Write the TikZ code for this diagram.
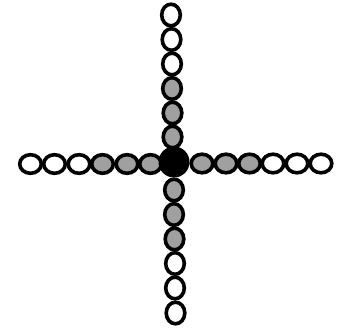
\documentclass[tikz,border=0pt]{standalone}
\usetikzlibrary{shapes.geometric}
\definecolor{beadgrey}{RGB}{160,160,160}
\tikzset{
  vbead/.style={ellipse, draw=black, line width=3.6pt, inner sep=0pt, minimum width=18.6pt, minimum height=21.6pt},
  hbead/.style={ellipse, draw=black, line width=3.6pt, inner sep=0pt, minimum width=21.6pt, minimum height=18.6pt},
  whitebead/.style={fill=white},
  greybead/.style={fill=beadgrey},
  core/.style={circle, draw=black, fill=black, line width=1pt, inner sep=0pt, minimum size=30pt}
}
\begin{document}
\begin{tikzpicture}[x=1pt,y=-1pt]
\useasboundingbox (0,0) rectangle (339,331);
% vertical top arm
\node[vbead,whitebead] (t1) at (171,15) {};
\node[vbead,whitebead] (t2) at (171.5,39.5) {};
\node[vbead,whitebead] (t3) at (172,64) {};
\node[vbead,greybead] (t4) at (172,88.5) {};
\node[vbead,greybead] (t5) at (172.5,113) {};
\node[vbead,greybead] (t6) at (172.5,137) {};
% vertical bottom arm
\node[vbead,greybead] (b1) at (174,190) {};
\node[vbead,greybead] (b2) at (174,214.5) {};
\node[vbead,greybead] (b3) at (174.5,239) {};
\node[vbead,whitebead] (b4) at (175,263.5) {};
\node[vbead,whitebead] (b5) at (175,288) {};
\node[vbead,whitebead] (b6) at (175.5,313) {};
% horizontal left arm
\node[hbead,whitebead] (l1) at (30.5,164) {};
\node[hbead,whitebead] (l2) at (54.5,164) {};
\node[hbead,whitebead] (l3) at (79,164) {};
\node[hbead,greybead] (l4) at (102.5,164) {};
\node[hbead,greybead] (l5) at (127,164) {};
\node[hbead,greybead] (l6) at (150.5,164) {};
% horizontal right arm
\node[hbead,greybead] (r1) at (202,163.5) {};
\node[hbead,greybead] (r2) at (226,163.5) {};
\node[hbead,greybead] (r3) at (249.5,163.5) {};
\node[hbead,whitebead] (r4) at (273,163.5) {};
\node[hbead,whitebead] (r5) at (297,163.5) {};
\node[hbead,whitebead] (r6) at (321,163.5) {};
% centre
\node[core] (c) at (174,162) {};
\end{tikzpicture}
\end{document}
